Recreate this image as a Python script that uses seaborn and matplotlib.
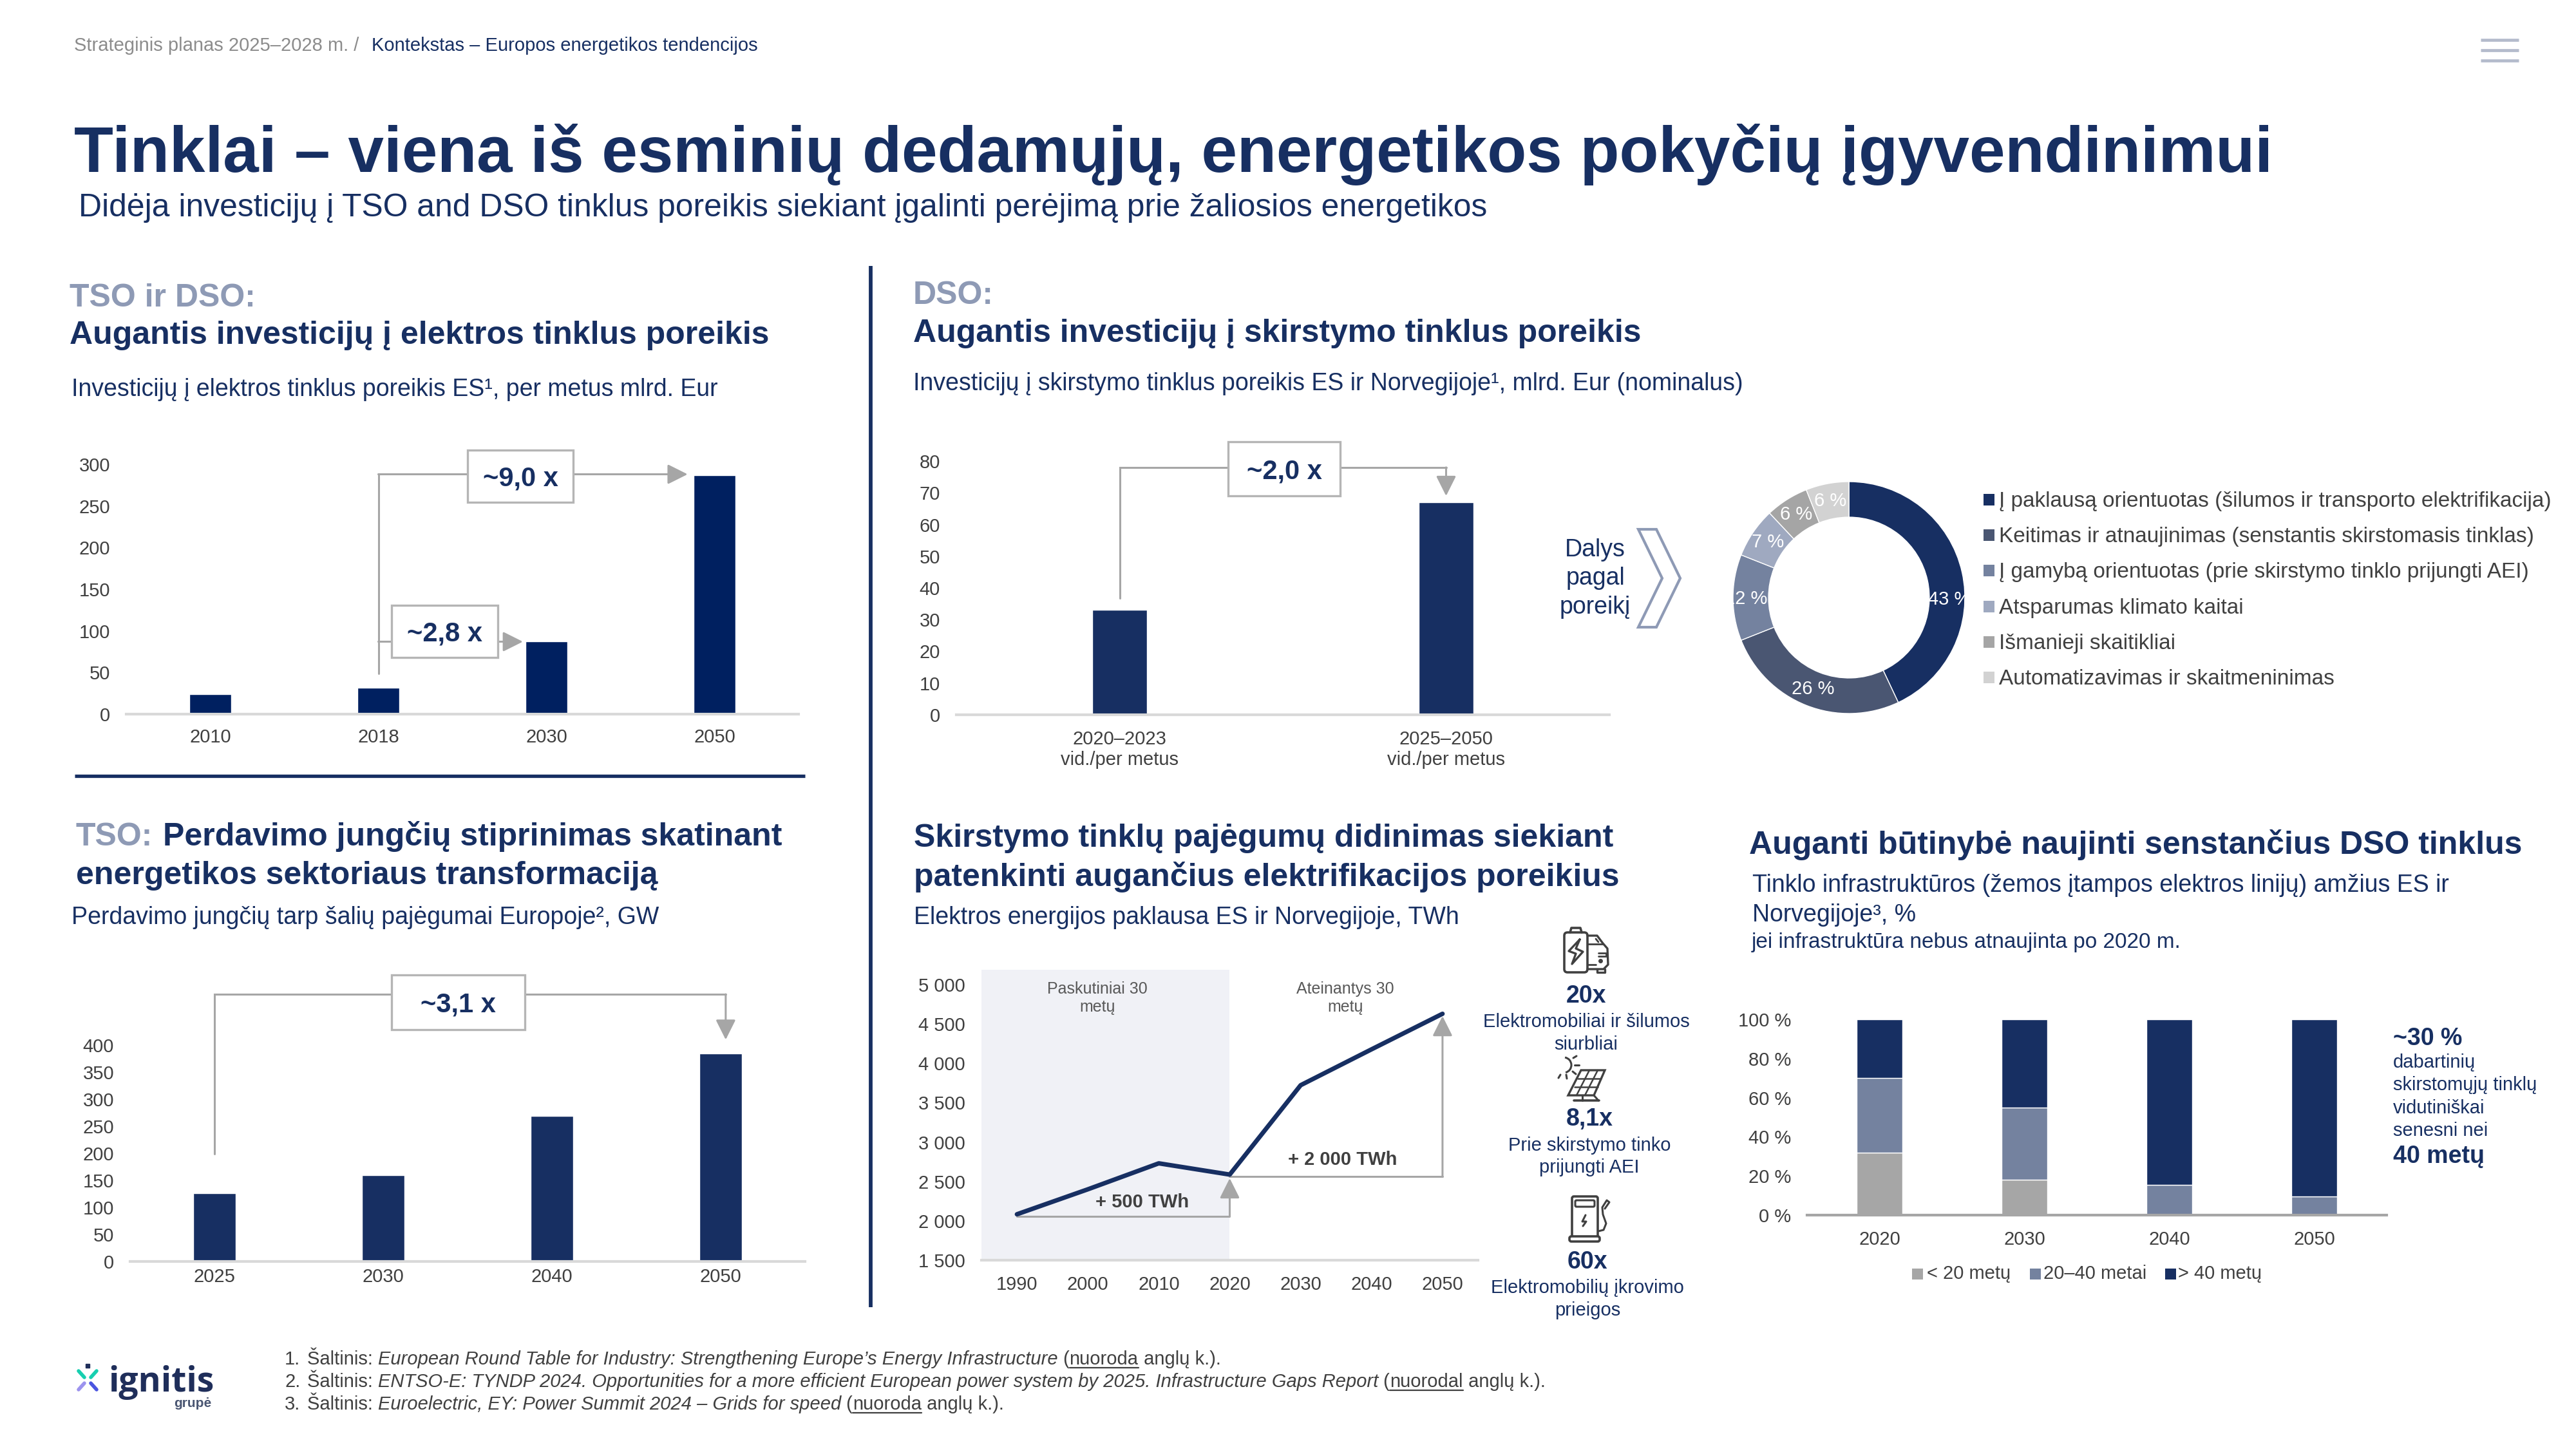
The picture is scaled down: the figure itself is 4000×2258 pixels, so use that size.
import matplotlib
matplotlib.use('Agg')
import matplotlib.pyplot as plt
from matplotlib.patches import Rectangle, Polygon, FancyBboxPatch, Arc
import seaborn as sns
import numpy as np

# data
inv_years = ['2010', '2018', '2030', '2050']
inv_values = [24, 32, 87, 287]
dso_periods = ['2020–2023\nvid./per metus', '2025–2050\nvid./per metus']
dso_values = [33, 67]
share_labels = ['Į paklausą orientuotas (šilumos ir transporto elektrifikacija)',
                'Keitimas ir atnaujinimas (senstantis skirstomasis tinklas)',
                'Į gamybą orientuotas (prie skirstymo tinklo prijungti AEI)',
                'Atsparumas klimato kaitai',
                'Išmanieji skaitikliai',
                'Automatizavimas ir skaitmeninimas']
share_values = [43, 26, 12, 7, 6, 6]
link_years = ['2025', '2030', '2040', '2050']
link_values = [126, 160, 269, 384]
demand_years = [1990, 2000, 2010, 2020, 2030, 2040, 2050]
demand_values = [2083, 2400, 2730, 2587, 3722, 4178, 4629]
age_years = ['2020', '2030', '2040', '2050']
age_young = [32, 18, 0, 0]
age_mid = [38, 37, 15.5, 9.5]
age_old = [30, 45, 84.5, 90.5]
age_labels = ['< 20 metų', '20–40 metai', '> 40 metų']

NAVY = '#172f62'
DARK = '#002060'
GREY = '#a6a6a6'
AXIS = '#d9d9d9'
TICK = '#404040'
SLATE = '#8e9ab5'
share_colors = ['#172f62', '#4a5672', '#74829f', '#9fa9c0', '#a5a5a5', '#d2d2d2']
age_colors = ['#a6a6a6', '#74829f', '#172f62']

W, H = 4000, 2258
sns.set_theme(style='white')
plt.rcParams['font.family'] = ['Liberation Sans', 'DejaVu Sans']
fig = plt.figure(figsize=(W / 100, H / 100), dpi=100, facecolor='white')


def px_axes(x0, top, x1, bottom, **kw):
    return fig.add_axes([x0 / W, 1 - bottom / H, (x1 - x0) / W, (bottom - top) / H], **kw)


# full slide layer in pixels, for headings and decoration
page = px_axes(0, 0, W, H, zorder=5)
page.set_xlim(0, W)
page.set_ylim(H, 0)
page.axis('off')
page.patch.set_alpha(0)


def txt(x, y, s, size=27, color=NAVY, weight='normal', ha='left', style='normal'):
    return page.text(x, y, s, fontsize=size, color=color, fontweight=weight, ha=ha,
                     va='baseline', fontstyle=style)


def width_of(s, **kw):
    # measure with a dot behind so the trailing space counts
    r = fig.canvas.get_renderer()
    a = page.text(0, 0, s + '.', **kw)
    b = page.text(0, 0, '.', **kw)
    w = a.get_window_extent(r).width - b.get_window_extent(r).width
    a.remove()
    b.remove()
    return w


def rich(x, y, parts, size=21, color=TICK):
    # text runs in mixed styles on a single baseline
    for s, style, under in parts:
        page.text(x, y, s, fontsize=size, color=color, fontstyle=style, va='baseline')
        w = width_of(s, fontsize=size, fontstyle=style)
        if under:
            page.plot([x, x + w], [y + 5, y + 5], color=color, lw=1.6)
        x += w


def elbow(ax, pts):
    xs, ys = zip(*pts)
    ax.plot(xs[:-1], ys[:-1], color=GREY, lw=2.2, clip_on=False, zorder=3, solid_joinstyle='miter')
    ax.annotate('', xy=pts[-1], xytext=pts[-2], annotation_clip=False, zorder=3,
                arrowprops=dict(arrowstyle='-|>,head_length=19,head_width=9.5', mutation_scale=1,
                                color=GREY, lw=2.2, shrinkA=0, shrinkB=0))


def callout(ax, x0, x1, y0, y1, label):
    ax.add_patch(Rectangle((x0, y0), x1 - x0, y1 - y0, facecolor='white', edgecolor='#b5b5b5',
                           lw=2.4, clip_on=False, zorder=4))
    ax.annotate(label, ((x0 + x1) / 2, (y0 + y1) / 2), xytext=(0, -3), textcoords='offset points',
                fontsize=30, fontweight='bold', color=NAVY, ha='center', va='center',
                zorder=5, annotation_clip=False)


def tidy(ax, ticks, labels, xpad=16, line=AXIS, ncat=None):
    sns.despine(ax=ax, left=True)
    ax.spines['bottom'].set_color(line)
    ax.spines['bottom'].set_linewidth(3)
    ax.set_yticks(ticks)
    ax.set_yticklabels(labels)
    ax.set_ylim(ticks[0], ticks[-1])
    if ncat:
        ax.set_xlim(-0.5, ncat - 0.5)
    ax.set_xlabel('')
    ax.set_ylabel('')
    ax.grid(False)
    ax.tick_params(axis='y', length=0, pad=18, labelsize=21, labelcolor=TICK)
    ax.tick_params(axis='x', length=0, pad=xpad, labelsize=21, labelcolor=TICK)


# top strip
txt(115, 79, 'Strateginis planas 2025–2028 m. /', size=21, color='#8c8c8c')
txt(577, 79, 'Kontekstas – Europos energetikos tendencijos', size=21)
for y in [62, 78, 94]:
    page.plot([3852, 3911], [y, y], color='#b4bbcc', lw=3.4, solid_capstyle='butt')
txt(115, 267, 'Tinklai – viena iš esminių dedamųjų, energetikos pokyčių įgyvendinimui', size=71.85, weight='bold')
txt(122, 336, 'Didėja investicijų į TSO and DSO tinklus poreikis siekiant įgalinti perėjimą prie žaliosios energetikos', size=35.87)

# dividers
page.plot([1352, 1352], [413, 2030], color=NAVY, lw=4.2, solid_capstyle='butt')
page.plot([116, 1250], [1205, 1205], color=NAVY, lw=3.8, solid_capstyle='butt')

# TSO ir DSO
txt(108, 476, 'TSO ir DSO:', size=36, color=SLATE, weight='bold')
txt(108, 534, 'Augantis investicijų į elektros tinklus poreikis', size=36, weight='bold')
txt(111, 615, 'Investicijų į elektros tinklus poreikis ES¹, per metus mlrd. Eur')
ax1 = px_axes(196, 721, 1240, 1109)
sns.barplot(x=inv_years, y=inv_values, color=DARK, saturation=1, width=0.25, ax=ax1)
tidy(ax1, [0, 50, 100, 150, 200, 250, 300], ['0', '50', '100', '150', '200', '250', '300'], ncat=4)
elbow(ax1, [(1, 49), (1, 288), (2.84, 288)])
elbow(ax1, [(1, 87), (1.86, 87)])
callout(ax1, 1.53, 2.16, 254, 317, '~9,0 x')
callout(ax1, 1.08, 1.71, 68, 131, '~2,8 x')

# DSO bars
txt(1418, 472, 'DSO:', size=36, color=SLATE, weight='bold')
txt(1418, 531, 'Augantis investicijų į skirstymo tinklus poreikis', size=36, weight='bold')
txt(1418, 606, 'Investicijų į skirstymo tinklus poreikis ES ir Norvegijoje¹, mlrd. Eur (nominalus)')
ax2 = px_axes(1485, 716, 2499, 1110)
sns.barplot(x=dso_periods, y=dso_values, color=NAVY, saturation=1, width=0.167, ax=ax2)
tidy(ax2, list(range(0, 81, 10)), [str(v) for v in range(0, 81, 10)], xpad=17, ncat=2)
elbow(ax2, [(0, 36.7), (0, 78), (1, 78), (1, 69)])
callout(ax2, 0.333, 0.675, 69, 86, '~2,0 x')

# shares donut
for line_y, word in zip([852, 896, 941], ['Dalys', 'pagal', 'poreikį']):
    page.text(2477, line_y + 12, word, fontsize=27, color=NAVY, ha='center', va='baseline')
page.add_patch(Polygon([(2544, 822), (2572, 822), (2609, 898), (2572, 974), (2544, 974), (2581, 898)],
                       closed=True, facecolor='white', edgecolor=SLATE, lw=3))
ax3 = px_axes(2691, 748, 3051, 1108)
wedges, _, autos = ax3.pie(share_values, colors=sns.color_palette(share_colors), startangle=90, counterclock=False,
                           radius=1, wedgeprops=dict(width=0.306), autopct=lambda p: f'{p:.0f} %',
                           pctdistance=0.847, textprops=dict(color='white', fontsize=21))
autos[0].set_position((0.866, -0.017))
autos[2].set_position((-0.887, -0.01))
ax3.set_xlim(-1, 1)
ax3.set_ylim(-1, 1)
for i, (label, color) in enumerate(zip(share_labels, share_colors)):
    y = 776 + i * 55.2
    page.add_patch(Rectangle((3080, y - 9), 17, 18, facecolor=color, edgecolor='none'))
    txt(3104, y + 11, label, size=24, color=TICK)

# TSO links
txt(118, 1313, 'TSO:', size=36, color=SLATE, weight='bold')
txt(253, 1313, 'Perdavimo jungčių stiprinimas skatinant', size=36, weight='bold')
txt(118, 1373, 'energetikos sektoriaus transformaciją', size=36, weight='bold')
txt(111, 1435, 'Perdavimo jungčių tarp šalių pajėgumai Europoje², GW')
ax4 = px_axes(202, 1623, 1250, 1959)
sns.barplot(x=link_years, y=link_values, color=NAVY, saturation=1, width=0.25, ax=ax4)
tidy(ax4, list(range(0, 401, 50)), [str(v) for v in range(0, 401, 50)], xpad=7, ncat=4)
elbow(ax4, [(0, 199), (0, 494), (3.03, 494), (3.03, 410)])
callout(ax4, 1.05, 1.84, 428, 530, '~3,1 x')

# demand line
txt(1419, 1315, 'Skirstymo tinklų pajėgumų didinimas siekiant', size=36, weight='bold')
txt(1419, 1376, 'patenkinti augančius elektrifikacijos poreikius', size=36, weight='bold')
txt(1419, 1435, 'Elektros energijos paklausa ES ir Norvegijoje, TWh')
ax5 = px_axes(1524, 1529, 2295, 1957)
ax5.fill_between([1985, 2020], 1500, 5188, color='#f0f1f6', lw=0, clip_on=False, zorder=0)
sns.lineplot(x=demand_years, y=demand_values, color=NAVY, lw=5, ax=ax5, zorder=4, errorbar=None)
tidy(ax5, [1500, 2000, 2500, 3000, 3500, 4000, 4500, 5000],
     ['1 500', '2 000', '2 500', '3 000', '3 500', '4 000', '4 500', '5 000'], xpad=17)
ax5.set_xticks(demand_years)
ax5.set_xlim(1985, 2055)
elbow(ax5, [(1990, 2057), (2020, 2057), (2020, 2540)])
elbow(ax5, [(2020, 2560), (2050, 2560), (2050, 4600)])
ax5.text(2007.7, 2240, '+ 500 TWh', fontsize=21, fontweight='bold', color=TICK, ha='center', va='center')
ax5.text(2035.9, 2773, '+ 2 000 TWh', fontsize=21, fontweight='bold', color=TICK, ha='center', va='center')
ax5.text(2001.3, 4830, 'Paskutiniai 30\nmetų', fontsize=18, color='#595959', ha='center', va='center')
ax5.text(2036.3, 4830, 'Ateinantys 30\nmetų', fontsize=18, color='#595959', ha='center', va='center')

# icons, rough line drawings
ICON = '#404040'


def stroke(pts, lw=2.4):
    xs, ys = zip(*pts)
    page.plot(xs, ys, color=ICON, lw=lw, solid_capstyle='round', solid_joinstyle='round', zorder=4)


def rbox(x0, y0, x1, y1, r=5, lw=2.6):
    page.add_patch(FancyBboxPatch((x0 + r, y0 + r), x1 - x0 - 2 * r, y1 - y0 - 2 * r,
                                  boxstyle=f'round,pad={r}', fc='white', ec=ICON, lw=lw, zorder=3))


# car behind battery
stroke([(2465, 1453), (2480, 1453), (2489, 1465), (2496, 1473), (2497, 1498), (2490, 1505), (2465, 1505)])
stroke([(2465, 1466), (2489, 1466)], lw=2)
stroke([(2478, 1458), (2482, 1463)], lw=2)
stroke([(2482, 1480), (2494, 1480), (2494, 1485), (2482, 1485)], lw=2)
stroke([(2480, 1505), (2480, 1510), (2492, 1510), (2492, 1505)], lw=2.4)
stroke([(2465, 1498), (2478, 1498)], lw=2)
page.plot([2485], [1492], marker='o', ms=4, color=ICON)
rbox(2429, 1448, 2465, 1510)
stroke([(2438, 1448), (2440, 1441), (2454, 1441), (2456, 1448)], lw=2.6)
stroke([(2453, 1459), (2436, 1477), (2447, 1481), (2441, 1497), (2458, 1478), (2447, 1473), (2453, 1459)], lw=2.4)
# solar panel and sun
page.add_patch(Polygon([(2455, 1662), (2492, 1662), (2475, 1701), (2435, 1701)], closed=True, fc='white', ec=ICON, lw=2.4))
stroke([(2468, 1662), (2448, 1701)], lw=1.8)
stroke([(2481, 1662), (2461, 1701)], lw=1.8)
stroke([(2450, 1675), (2486, 1675)], lw=1.8)
stroke([(2445, 1688), (2481, 1688)], lw=1.8)
stroke([(2457, 1701), (2457, 1709)], lw=2.2)
stroke([(2475, 1701), (2482, 1709)], lw=2.2)
stroke([(2444, 1709), (2483, 1709)], lw=2.6)
page.add_patch(Arc((2428, 1654), 24, 24, theta1=-80, theta2=75, ec=ICON, lw=2.2))
stroke([(2443, 1643), (2448, 1640)], lw=2.2)
stroke([(2445, 1654), (2452, 1654)], lw=2.2)
stroke([(2442, 1664), (2447, 1668)], lw=2.2)
stroke([(2432, 1669), (2433, 1675)], lw=2.2)
stroke([(2423, 1669), (2420, 1674)], lw=2.2)
# charger
rbox(2441, 1858, 2481, 1921, r=3)
rbox(2446, 1864, 2476, 1874, r=2, lw=2.2)
stroke([(2462, 1887), (2457, 1897), (2463, 1897), (2458, 1904)], lw=2.2)
rbox(2437, 1920, 2484, 1928, r=3)
stroke([(2482, 1912), (2490, 1910), (2494, 1900), (2489, 1886), (2488, 1875), (2495, 1864), (2499, 1867), (2492, 1877)], lw=2.2)

txt(2463, 1557, '20x', weight='bold', ha='center')
txt(2463, 1595, 'Elektromobiliai ir šilumos', size=21, ha='center')
txt(2463, 1630, 'siurbliai', size=21, ha='center')
txt(2468, 1748, '8,1x', weight='bold', ha='center')
txt(2468, 1787, 'Prie skirstymo tinko', size=21, ha='center')
txt(2468, 1821, 'prijungti AEI', size=21, ha='center')
txt(2465, 1970, '60x', weight='bold', ha='center')
txt(2465, 2008, 'Elektromobilių įkrovimo', size=21, ha='center')
txt(2465, 2043, 'prieigos', size=21, ha='center')

# ageing stack
txt(2716, 1326, 'Auganti būtinybė naujinti senstančius DSO tinklus', size=36, weight='bold')
txt(2721, 1385, 'Tinklo infrastruktūros (žemos įtampos elektros linijų) amžius ES ir')
txt(2721, 1431, 'Norvegijoje³, %')
txt(2720, 1472, 'jei infrastruktūra nebus atnaujinta po 2020 m.', size=24)
ax6 = px_axes(2806, 1583, 3706, 1887)
bottom = np.zeros(len(age_years))
for vals, color in zip([age_young, age_mid, age_old], age_colors):
    sns.barplot(x=age_years, y=vals, bottom=bottom, color=color, saturation=1, width=0.316, ax=ax6)
    bottom = bottom + np.array(vals)
tidy(ax6, [0, 20, 40, 60, 80, 100], ['0 %', '20 %', '40 %', '60 %', '80 %', '100 %'], xpad=17, line=GREY, ncat=4)
for sx, tx, label, color in zip([2969, 3152, 3362], [2992, 3173, 3382], age_labels, age_colors):
    page.add_patch(Rectangle((sx, 1970), 17, 17, facecolor=color, edgecolor='none'))
    txt(tx, 1986, label, size=21, color=TICK)
txt(3716, 1623, '~30 %', weight='bold')
for y, line in zip([1658, 1693, 1729, 1764], ['dabartinių', 'skirstomųjų tinklų', 'vidutiniškai', 'senesni nei']):
    txt(3716, y, line, size=21)
txt(3716, 1806, '40 metų', weight='bold')

# logo
page.plot([136], [2121], marker='s', ms=4.6, color='#1f2e5a')
page.plot([122, 131], [2129, 2139], color='#17cfb0', lw=4, solid_capstyle='round')
page.plot([150, 141], [2129, 2139], color='#17cfb0', lw=4, solid_capstyle='round')
page.plot([122, 131], [2158, 2148], color='#9c93ee', lw=4, solid_capstyle='round')
page.plot([150, 141], [2158, 2148], color='#4a55e0', lw=4, solid_capstyle='round')
page.text(168, 2161, 'ignitis', fontsize=38.5, color='#1f2e5a', fontweight='bold', family='Open Sans', va='baseline')
txt(328, 2185, 'grupė', size=15, color='#4a5672', weight='bold', ha='right')

# footnotes
for num, y in zip(['1.', '2.', '3.'], [2119, 2154, 2189]):
    txt(442, y, num, size=21, color=TICK)
rich(477, 2119, [('Šaltinis: ', 'normal', False),
                 ('European Round Table for Industry: Strengthening Europe’s Energy Infrastructure', 'italic', False),
                 (' (', 'normal', False), ('nuoroda', 'normal', True), (' anglų k.).', 'normal', False)])
rich(477, 2154, [('Šaltinis: ', 'normal', False),
                 ('ENTSO-E: TYNDP 2024. Opportunities for a more efficient European power system by 2025. Infrastructure Gaps Report', 'italic', False),
                 (' (', 'normal', False), ('nuorodal', 'normal', True), (' anglų k.).', 'normal', False)])
rich(477, 2189, [('Šaltinis: ', 'normal', False),
                 ('Euroelectric, EY: Power Summit 2024 – Grids for speed', 'italic', False),
                 (' (', 'normal', False), ('nuoroda', 'normal', True), (' anglų k.).', 'normal', False)])

page.set_xlim(0, W)
page.set_ylim(H, 0)
fig.savefig('out.png', dpi=100, facecolor='white')
